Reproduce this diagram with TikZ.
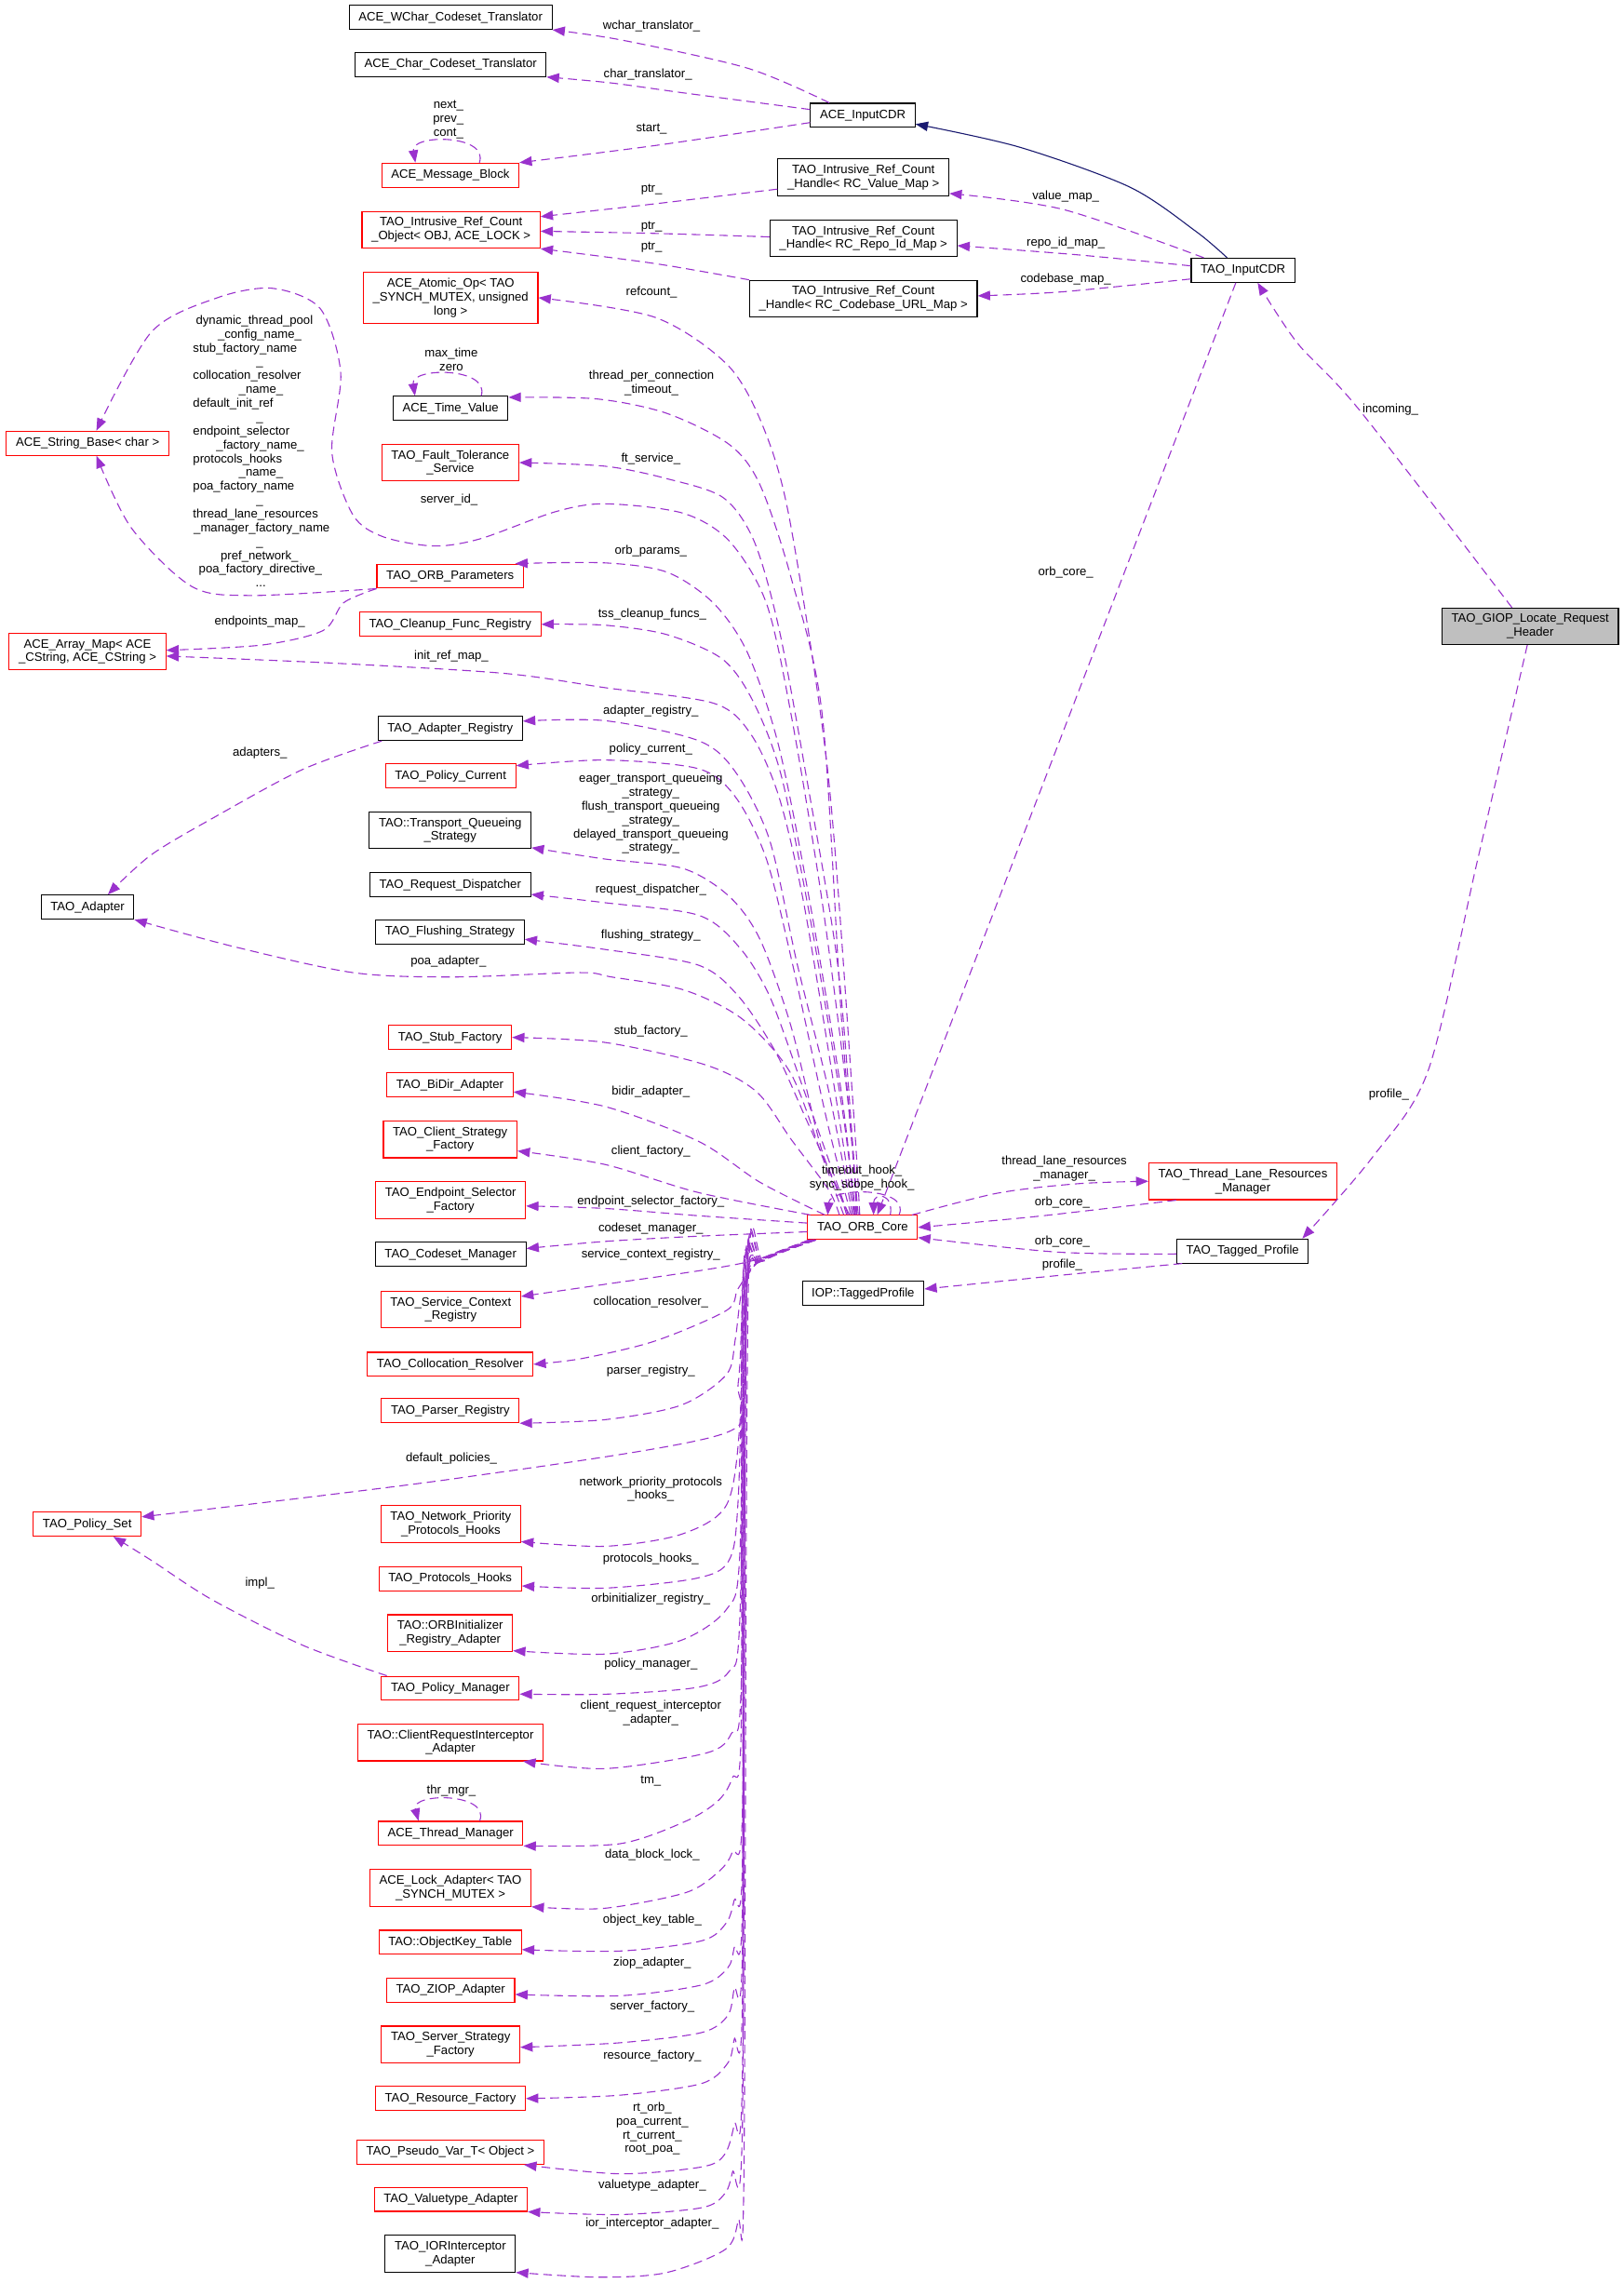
\documentclass[tikz,border=0pt]{standalone}
\usepackage{fontspec}
\setmainfont{Liberation Sans}
\usetikzlibrary{arrows.meta}

\definecolor{purpura}{HTML}{9A32CD}
\definecolor{azulher}{HTML}{191970}
\definecolor{rojo}{HTML}{FF0000}
\definecolor{gris}{HTML}{BFBFBF}

\tikzset{
  clase/.style={draw=black, line width=0.7pt, align=center, inner xsep=6.5pt, inner ysep=4pt,
    minimum height=16.5pt, font=\fontsize{8.4}{9.5}\selectfont},
  clasered/.style={clase, draw=rojo},
  principal/.style={clase, fill=gris},
  etiq/.style={inner sep=0pt, align=center, font=\fontsize{8.4}{9.5}\selectfont},
  miembro/.style={draw=purpura, line width=0.7pt, dash pattern=on 6pt off 3.5pt,
    -{Triangle[length=8.5pt,width=6.5pt]}},
  hereda/.style={draw=azulher, line width=0.7pt, -{Triangle[length=8.5pt,width=6.5pt]}}
}

\begin{document}
\begin{tikzpicture}[x=1pt, y=-1pt]
        \path[use as bounding box, fill=white] (0,0) rectangle (1115,1568);

        % --- CLASES: PARTE SUPERIOR ---
        \node[clase] (wchar) at (309.5,11.9) {ACE\_WChar\_Codeset\_Translator};
        \node[clase] (chartr) at (309.5,44.3) {ACE\_Char\_Codeset\_Translator};
        \node[clasered] (msgblock) at (309.3,120.3) {ACE\_Message\_Block};
        \node[clase] (aceinputcdr) at (592.6,79.2) {ACE\_InputCDR};
        \node[clasered] (ircobj) at (309.8,157.8) {TAO\_Intrusive\_Ref\_Count\\\_Object< OBJ, ACE\_LOCK >};
        \node[clase] (handlevalue) at (593,121.9) {TAO\_Intrusive\_Ref\_Count\\\_Handle< RC\_Value\_Map >};
        \node[clase] (handlerepo) at (593,163.7) {TAO\_Intrusive\_Ref\_Count\\\_Handle< RC\_Repo\_Id\_Map >};
        \node[clase] (handlecode) at (593,205.2) {TAO\_Intrusive\_Ref\_Count\\\_Handle< RC\_Codebase\_URL\_Map >};
        \node[clase] (taoinputcdr) at (853.8,185.6) {TAO\_InputCDR};
        \node[principal] (giop) at (1051,430.2) {TAO\_GIOP\_Locate\_Request\\\_Header};

        % --- CLASES: COLUMNA IZQUIERDA ---
        \node[clasered] (stringbase) at (60.2,304.4) {ACE\_String\_Base< char >};
        \node[clasered] (arraymap) at (60.1,447.6) {ACE\_Array\_Map< ACE\\\_CString, ACE\_CString >};
        \node[clase] (adapter) at (60.1,623) {TAO\_Adapter};
        \node[clasered] (policyset) at (59.9,1046.8) {TAO\_Policy\_Set};

        % --- CLASES: COLUMNA CENTRAL ---
        \node[clasered] (atomicop) at (309.5,204.5) {ACE\_Atomic\_Op< TAO\\\_SYNCH\_MUTEX, unsigned\\long >};
        \node[clase] (timevalue) at (309.5,280.5) {ACE\_Time\_Value};
        \node[clasered] (faulttol) at (309.3,317.7) {TAO\_Fault\_Tolerance\\\_Service};
        \node[clasered] (orbparams) at (309.2,395.7) {TAO\_ORB\_Parameters};
        \node[clasered] (cleanup) at (309.2,428.8) {TAO\_Cleanup\_Func\_Registry};
        \node[clase] (adapterreg) at (309.2,500.3) {TAO\_Adapter\_Registry};
        \node[clasered] (policycur) at (309.5,532.9) {TAO\_Policy\_Current};
        \node[clase] (transport) at (309.2,570.2) {TAO::Transport\_Queueing\\\_Strategy};
        \node[clase] (reqdisp) at (309.2,607.7) {TAO\_Request\_Dispatcher};
        \node[clase] (flushing) at (309,640.1) {TAO\_Flushing\_Strategy};
        \node[clasered] (stubfac) at (309.2,712.5) {TAO\_Stub\_Factory};
        \node[clasered] (bidir) at (309,745.2) {TAO\_BiDir\_Adapter};
        \node[clasered] (clientfac) at (309.2,782.5) {TAO\_Client\_Strategy\\\_Factory};
        \node[clasered] (endpoint) at (309.5,824.3) {TAO\_Endpoint\_Selector\\\_Factory};
        \node[clase] (codeset) at (309.5,861.5) {TAO\_Codeset\_Manager};
        \node[clasered] (servctx) at (309.6,899.4) {TAO\_Service\_Context\\\_Registry};
        \node[clasered] (colloc) at (309.2,937) {TAO\_Collocation\_Resolver};
        \node[clasered] (parser) at (309.3,968.9) {TAO\_Parser\_Registry};
        \node[clasered] (netprio) at (309.6,1046.8) {TAO\_Network\_Priority\\\_Protocols\_Hooks};
        \node[clasered] (protohooks) at (309.2,1084.2) {TAO\_Protocols\_Hooks};
        \node[clasered] (orbinit) at (309.2,1121.7) {TAO::ORBInitializer\\\_Registry\_Adapter};
        \node[clasered] (policymgr) at (309.3,1159.5) {TAO\_Policy\_Manager};
        \node[clasered] (clientreq) at (309.4,1196.7) {TAO::ClientRequestInterceptor\\\_Adapter};
        \node[clasered] (threadmgr) at (309.5,1259.2) {ACE\_Thread\_Manager};
        \node[clasered] (lockadapter) at (309.4,1296.6) {ACE\_Lock\_Adapter< TAO\\\_SYNCH\_MUTEX >};
        \node[clasered] (objkey) at (309.2,1334) {TAO::ObjectKey\_Table};
        \node[clasered] (ziop) at (309.5,1366.8) {TAO\_ZIOP\_Adapter};
        \node[clasered] (serverfac) at (309.5,1404.1) {TAO\_Server\_Strategy\\\_Factory};
        \node[clasered] (resfac) at (309.4,1441.3) {TAO\_Resource\_Factory};
        \node[clasered] (pseudovar) at (309.4,1478.2) {TAO\_Pseudo\_Var\_T< Object >};
        \node[clasered] (valuetype) at (309.6,1510.5) {TAO\_Valuetype\_Adapter};
        \node[clase] (iorinterc) at (309.3,1547.8) {TAO\_IORInterceptor\\\_Adapter};

        % --- CLASES: NUCLEO ---
        \node[clasered] (orbcore) at (592.5,843) {TAO\_ORB\_Core};
        \node[clasered] (tlrm) at (853.7,811.3) {TAO\_Thread\_Lane\_Resources\\\_Manager};
        \node[clase] (taggedprof) at (853.5,859.2) {TAO\_Tagged\_Profile};
        \node[clase] (iop) at (592.8,888.3) {IOP::TaggedProfile};

        % --- RELACIONES DE ACE_InputCDR ---
        \draw[miembro] plot[smooth] coordinates {([xshift=-23pt]aceinputcdr.north) (514,47) (428,27.7) (wchar.south east)};
        \draw[miembro] plot[smooth] coordinates {([yshift=4pt]aceinputcdr.west) (471,64) (420,57) (chartr.south east)};
        \draw[miembro] plot[smooth] coordinates {([yshift=-5pt]aceinputcdr.west) (449.6,100) (msgblock.north east)};
        \draw[miembro] ([xshift=20pt]msgblock.north) .. controls (336,92) and (282,92) .. ([xshift=-24pt]msgblock.north);

        % Punteros de los handles
        \draw[miembro] plot[smooth] coordinates {([yshift=-8pt]handlevalue.west) (449.7,140) ([yshift=9pt]ircobj.east)};
        \draw[miembro] plot[smooth] coordinates {([yshift=1pt]handlerepo.west) (449.6,160.3) ([yshift=-1pt]ircobj.east)};
        \draw[miembro] plot[smooth] coordinates {(handlecode.north west) (449.7,181) (ircobj.south east)};

        % --- RELACIONES DE TAO_InputCDR ---
        \draw[miembro] plot[smooth] coordinates {([xshift=-27pt]taoinputcdr.north) (730,143.8) ([yshift=-11pt]handlevalue.east)};
        \draw[miembro] plot[smooth] coordinates {([yshift=3pt]taoinputcdr.west) (740,175) ([yshift=-5pt]handlerepo.east)};
        \draw[miembro] plot[smooth] coordinates {([yshift=-6pt]taoinputcdr.west) (730,200.4) ([yshift=2pt]handlecode.east)};
        \draw[hereda] plot[smooth] coordinates {([xshift=-11pt]taoinputcdr.north) (821.5,159) (776,128.5) (700,101) ([yshift=-6pt]aceinputcdr.east)};
        \draw[miembro] ([xshift=-5pt]taoinputcdr.south) -- ([xshift=10pt]orbcore.north);

        % --- RELACIONES DE LA CLASE PRINCIPAL ---
        \draw[miembro] plot[smooth] coordinates {([xshift=-12.5pt]giop.north) (933.6,281.5) (891,235.5) ([xshift=10pt]taoinputcdr.south)};
        \draw[miembro] plot[smooth] coordinates {([xshift=-2pt]giop.south) (1015,590) (981,735) (942.5,795) ([xshift=-4.5pt]taggedprof.north east)};

        % --- NUCLEO, LANES Y PERFILES ---
        \draw[miembro] plot[smooth] coordinates {([xshift=-4pt]orbcore.north east) (685,819.5) (740,813) (tlrm.west)};
        \draw[miembro] plot[smooth] coordinates {([xshift=19pt]tlrm.south west) (711.6,835.5) (orbcore.east)};
        \draw[miembro] plot[smooth] coordinates {([yshift=-2pt]taggedprof.west) (727,860) ([yshift=-7pt]orbcore.east)};
        \draw[miembro] plot[smooth] coordinates {([xshift=4pt]taggedprof.south west) (727,876) ([yshift=3pt]iop.east)};
        \draw[miembro] ([xshift=25pt]orbcore.north) .. controls (626,815) and (570,815) .. ([xshift=-24pt]orbcore.north);
        \draw[miembro] ([xshift=19pt]orbcore.north) .. controls (614,819) and (600,819) .. ([xshift=7.5pt]orbcore.north);

        % --- OTRAS RELACIONES DE LA IZQUIERDA ---
        \draw[miembro] plot[smooth] coordinates {(orbparams.south west) (173,409) (131.7,402.8) (90,362.3) ([xshift=6pt]stringbase.south)};
        \draw[miembro] plot[smooth] coordinates {(orbparams.south west) (236,414) (222,433) (180,443) ([yshift=1pt]arraymap.east)};
        \draw[miembro] plot[smooth] coordinates {([xshift=3pt]adapterreg.south west) (208,528.4) (149,560.3) (104,587) ([xshift=14pt]adapter.north)};
        \draw[miembro] plot[smooth] coordinates {([xshift=4pt]policymgr.north west) (208,1130) (145.5,1098.6) (104,1071.7) ([xshift=18pt]policyset.south)};
        \draw[miembro] ([xshift=21pt]timevalue.north) .. controls (337,252) and (282,252) .. ([xshift=-24.5pt]timevalue.north);
        \draw[miembro] ([xshift=20pt]threadmgr.north) .. controls (337,1231) and (282,1231) .. ([xshift=-22pt]threadmgr.north);

        % --- ABANICO SUPERIOR DEL NUCLEO ---
        \draw[miembro] plot[smooth] coordinates {([xshift=-2pt]orbcore.north) (586,760) (569,534) (543.5,363) (526.4,298.8) (500.8,251.8) (450,218) (atomicop.east)};
        \draw[miembro] plot[smooth] coordinates {([xshift=-3pt]orbcore.north) (578,700) (564.8,491.5) (543.5,397.3) (522,333) (500.9,305.3) (458,283.9) (410,274) ([yshift=-1pt]timevalue.north east)};
        \draw[miembro] plot[smooth] coordinates {([xshift=-4pt]orbcore.north) (586,791) (575.4,662.8) (554,534.3) (535,431.6) (517.9,371.6) (496.6,341.7) (458.2,328.8) (415.6,320.2) (faulttol.east)};
        \draw[miembro] plot[smooth] coordinates {([xshift=-4.5pt]orbcore.north) (584,770) (564.8,620) (543.5,491.5) (526.4,414.4) (500.9,371.6) (468.9,352.4) (415.6,346) (381,351.6) (330,370) (298,375) (263,368.6) (242.5,353.8) (228,311) (234,256) (220,212) (187,198) (149,204.6) (104,228) ([xshift=6pt]stringbase.north)};
        \draw[miembro] plot[smooth] coordinates {([xshift=-5pt]orbcore.north) (577.6,748.4) (556.3,620) (535,513) (513.6,448.7) (490.2,414.4) (458.2,393) (415.6,386.6) ([xshift=-6pt]orbparams.north east)};
        \draw[miembro] plot[smooth] coordinates {([xshift=-5.5pt]orbcore.north) (579.7,769.8) (558.4,641.4) (537,534.3) (517.9,483) (496.6,453) (458.2,435.9) (415.6,429.4) (cleanup.east)};
        \draw[miembro] plot[smooth] coordinates {([xshift=-6pt]orbcore.north) (573.3,748.4) (552,620) (535,547.2) (515.8,504.4) (490.2,483) (415.6,472.3) (346.5,462.5) (230,455.5) ([yshift=-3pt]arraymap.east)};
        \draw[miembro] plot[smooth] coordinates {([xshift=-7pt]orbcore.north) (569,748.4) (547.7,662.8) (528.6,577) (505,530) (479.5,508.6) (415.8,495) ([yshift=5pt]adapterreg.east)};
        \draw[miembro] plot[smooth] coordinates {([xshift=-8pt]orbcore.north) (568,769.8) (545,665) (526.4,590) (505,547.2) (479.5,527.9) (415.6,522) ([yshift=7pt]policycur.east)};
        \draw[miembro] plot[smooth] coordinates {([xshift=-9pt]orbcore.north) (564.8,791.2) (543.5,705.6) (522.2,645.6) (500.9,615.7) (468.9,596.4) (415.6,590) ([yshift=1pt]transport.south east)};
        \draw[miembro] plot[smooth] coordinates {([xshift=-10pt]orbcore.north) (573.3,808.3) (552,748.4) (528.6,684.2) (507.2,649.9) (479.5,628.5) (415.6,620) ([yshift=2pt]reqdisp.south east)};
        \draw[miembro] plot[smooth] coordinates {([xshift=-11pt]orbcore.north) (575.4,816.9) (554.2,769.8) (532.8,722.7) (507.2,684.2) (479.5,662.8) (415.6,652.1) ([yshift=-5pt]flushing.east)};
        \draw[miembro] plot[smooth] coordinates {([xshift=-13pt]orbcore.north) (565,795) (543,737) (510,700) (470,680) (420,671) (398,668) (312,671) (242.5,668) (160,650) (adapter.south east)};
        \draw[miembro] plot[smooth] coordinates {([xshift=-16pt]orbcore.north) (569,817) (543.5,782.7) (519.8,750) (485,731.5) (415.8,716) (stubfac.east)};
        \draw[miembro] plot[smooth] coordinates {([xshift=-26pt]orbcore.north) (522,812) (480,784) (415.6,760) ([yshift=-4.7pt]bidir.east)};
        \draw[miembro] plot[smooth] coordinates {([xshift=2pt]orbcore.north west) (479.5,819) (415.6,799.8) ([yshift=-8pt]clientfac.east)};
        \draw[miembro] plot[smooth] coordinates {([yshift=3pt]orbcore.west) (480,835) (415.8,830) ([yshift=-4pt]endpoint.east)};
        \draw[miembro] plot[smooth] coordinates {([yshift=-3pt]orbcore.west) (480,849) (415.8,852.6) ([yshift=4pt]codeset.east)};

        % --- HAZ INFERIOR DEL NUCLEO ---
        \draw[miembro] plot[smooth] coordinates {([xshift=1pt]orbcore.south west) (520,865) (485,872) (416,882) ([yshift=9pt]servctx.east)};
        \draw[miembro] plot[smooth] coordinates {([xshift=3pt]orbcore.south west) (522,866) (507,885) (499,900) (450,921) (400,933) (colloc.east)};
        \draw[miembro] plot[smooth] coordinates {([xshift=3pt]orbcore.south west) (522,866) (510,885) (505,920) (499,944) (468,965) (416,975) (parser.south east)};
        \draw[miembro] plot[smooth] coordinates {([xshift=4pt]orbcore.south west) (522,866) (511,885) (507,950) (496,985) (311.8,1015.6) ([yshift=5pt]policyset.east)};
        \draw[miembro] plot[smooth] coordinates {([xshift=4pt]orbcore.south west) (522,866) (511,885) (508,980) (499,1033.6) (467.8,1053.8) (415.8,1062) ([yshift=1pt]netprio.south east)};
        \draw[miembro] plot[smooth] coordinates {([xshift=5pt]orbcore.south west) (523,866) (512,885) (507,1030) (500.7,1071.7) (478.2,1084) (415.8,1090.7) ([yshift=-5pt]protohooks.east)};
        \draw[miembro] plot[smooth] coordinates {([xshift=5pt]orbcore.south west) (523,866) (512,885) (508,1070) (499,1105.3) (467.8,1126.6) (415.8,1136) ([yshift=1pt]orbinit.south east)};
        \draw[miembro] plot[smooth] coordinates {([xshift=6pt]orbcore.south west) (524,866) (513,885) (508,1115) (500.7,1148) (478.2,1159) (415.8,1163.6) ([yshift=-4pt]policymgr.east)};
        \draw[miembro] plot[smooth] coordinates {([xshift=6pt]orbcore.south west) (524,866) (513,885) (509,1160) (502.4,1190.5) (485,1204) (415.8,1214.7) ([xshift=-14pt]clientreq.south east)};
        \draw[miembro] plot[smooth] coordinates {([xshift=2pt]orbcore.south west) (521,866) (510,885) (509,1190) (503,1221) (493,1237) (470.6,1251) (425.7,1266.3) (threadmgr.south east)};
        \draw[miembro] plot[smooth] coordinates {([xshift=2pt]orbcore.south west) (521,866) (510,885) (510,1240) (503,1272) (493,1286) (470.6,1300) (414.5,1310.7) (lockadapter.south east)};
        \draw[miembro] plot[smooth] coordinates {([xshift=3pt]orbcore.south west) (522,866) (511,885) (510,1275) (504.3,1305) (498.6,1321) (481.8,1333) (425.7,1340) ([yshift=-5pt]objkey.east)};
        \draw[miembro] plot[smooth] coordinates {([xshift=3pt]orbcore.south west) (522,866) (511,885) (510,1305) (504.3,1337.5) (499.8,1351.6) (481.8,1363.3) (425.7,1370.7) ([yshift=-3pt]ziop.east)};
        \draw[miembro] plot[smooth] coordinates {([xshift=4pt]orbcore.south west) (523,866) (512,885) (510,1335) (504.3,1365.6) (499.8,1384.3) (481.8,1396) (425.7,1403) ([yshift=-2pt]serverfac.east)};
        \draw[miembro] plot[smooth] coordinates {([xshift=4pt]orbcore.south west) (523,866) (512,885) (510,1370) (504.3,1400.6) (499.8,1417) (481.8,1431) (425.7,1439) (resfac.east)};
        \draw[miembro] plot[smooth] coordinates {([xshift=5pt]orbcore.south west) (524,866) (513,885) (510,1420) (504.3,1459) (497.5,1480) (481.8,1488.3) (425.7,1493) ([xshift=-14pt]pseudovar.south east)};
        \draw[miembro] plot[smooth] coordinates {([xshift=5pt]orbcore.south west) (524,866) (513,885) (510,1455) (503.1,1491.8) (497.5,1507) (481.8,1516.3) (425.7,1521) (valuetype.south east)};
        \draw[miembro] plot[smooth] coordinates {([xshift=6pt]orbcore.south west) (525,866) (514,885) (511,1490) (507,1525) (498,1545) (457,1561) (411,1564) (iorinterc.south east)};

        % --- ETIQUETAS ---
        \node[etiq] (l-wchar) at (447.5,18) {wchar\_translator\_};
        \node[etiq] (l-char) at (445,51) {char\_translator\_};
        \node[etiq] (l-start) at (447.5,88.4) {start\_};
        \node[etiq] (l-next) at (308,82) {next\_\\prev\_\\cont\_};
        \node[etiq] (l-ptr1) at (447.5,130) {ptr\_};
        \node[etiq] (l-ptr2) at (447.5,155.6) {ptr\_};
        \node[etiq] (l-ptr3) at (447.5,170) {ptr\_};
        \node[etiq] (l-valuemap) at (732,135) {value\_map\_};
        \node[etiq] (l-repomap) at (732,166.7) {repo\_id\_map\_};
        \node[etiq] (l-codemap) at (732,192) {codebase\_map\_};
        \node[etiq] (l-orbcore1) at (732,393) {orb\_core\_};
        \node[etiq] (l-incoming) at (955,281.5) {incoming\_};
        \node[etiq] (l-profile1) at (954,752) {profile\_};
        \node[etiq] (l-refcount) at (447.5,201) {refcount\_};
        \node[etiq] (l-maxtime) at (310,247) {max\_time\\zero};
        \node[etiq] (l-tpc) at (447.5,262.8) {thread\_per\_connection\\\_timeout\_};
        \node[etiq] (l-ft) at (447,315) {ft\_service\_};
        \node[etiq] (l-serverid) at (308.4,343) {server\_id\_};
        \node[etiq, align=left, anchor=west] (l-strings) at (132.4,309.9) {\hspace*{2pt}dynamic\_thread\_pool\\
          \hspace*{17pt}\_config\_name\_\\stub\_factory\_name\\\hspace*{43.5pt}\_\\collocation\_resolver\\
          \hspace*{31.5pt}\_name\_\\default\_init\_ref\\\hspace*{43.5pt}\_\\endpoint\_selector\\
          \hspace*{16pt}\_factory\_name\_\\protocols\_hooks\\\hspace*{31.5pt}\_name\_\\poa\_factory\_name\\
          \hspace*{43.5pt}\_\\thread\_lane\_resources\\\hspace*{0.5pt}\_manager\_factory\_name\\
          \hspace*{43.5pt}\_\\\hspace*{19pt}pref\_network\_\\\hspace*{4pt}poa\_factory\_directive\_\\
          \hspace*{43pt}...};
        \node[etiq] (l-orbparams) at (447,378.7) {orb\_params\_};
        \node[etiq] (l-endpointsmap) at (178.4,427.3) {endpoints\_map\_};
        \node[etiq] (l-tss) at (448,422.2) {tss\_cleanup\_funcs\_};
        \node[etiq] (l-initref) at (310,450.8) {init\_ref\_map\_};
        \node[etiq] (l-adapterreg) at (447,488.5) {adapter\_registry\_};
        \node[etiq] (l-adapters) at (178.5,517) {adapters\_};
        \node[etiq] (l-policycur) at (447,514.5) {policy\_current\_};
        \node[etiq] (l-transport) at (447,558.9) {eager\_transport\_queueing\\\_strategy\_\\flush\_transport\_queueing\\
          \_strategy\_\\delayed\_transport\_queueing\\\_strategy\_};
        \node[etiq] (l-reqdisp) at (447,611) {request\_dispatcher\_};
        \node[etiq] (l-flushing) at (447,642.5) {flushing\_strategy\_};
        \node[etiq] (l-poa) at (308,660.6) {poa\_adapter\_};
        \node[etiq] (l-stub) at (447,708.3) {stub\_factory\_};
        \node[etiq] (l-bidir) at (447,749.9) {bidir\_adapter\_};
        \node[etiq] (l-client) at (447,790.7) {client\_factory\_};
        \node[etiq] (l-tlrm) at (731,802.7) {thread\_lane\_resources\\\_manager\_};
        \node[etiq] (l-endpoint) at (447,825.2) {endpoint\_selector\_factory\_};
        \node[etiq] (l-orbcore2) at (729.6,826) {orb\_core\_};
        \node[etiq] (l-hooks) at (592,809) {timeout\_hook\_\\sync\_scope\_hook\_};
        \node[etiq] (l-codeset) at (447,844.1) {codeset\_manager\_};
        \node[etiq] (l-orbcore3) at (729.6,853) {orb\_core\_};
        \node[etiq] (l-servctx) at (447,862) {service\_context\_registry\_};
        \node[etiq] (l-profile2) at (729.6,869) {profile\_};
        \node[etiq] (l-colloc) at (447,894) {collocation\_resolver\_};
        \node[etiq] (l-parser) at (447,941.6) {parser\_registry\_};
        \node[etiq] (l-defpol) at (310,1001.7) {default\_policies\_};
        \node[etiq] (l-netprio) at (447,1022.8) {network\_priority\_protocols\\\_hooks\_};
        \node[etiq] (l-protohooks) at (447,1070.7) {protocols\_hooks\_};
        \node[etiq] (l-impl) at (178.5,1087.4) {impl\_};
        \node[etiq] (l-orbinit) at (447,1098.5) {orbinitializer\_registry\_};
        \node[etiq] (l-policymgr) at (447,1142.9) {policy\_manager\_};
        \node[etiq] (l-clientreq) at (447,1176.6) {client\_request\_interceptor\\\_adapter\_};
        \node[etiq] (l-tm) at (447,1223) {tm\_};
        \node[etiq] (l-thrmgr) at (310,1230) {thr\_mgr\_};
        \node[etiq] (l-lock) at (448,1274) {data\_block\_lock\_};
        \node[etiq] (l-objkey) at (448,1318.8) {object\_key\_table\_};
        \node[etiq] (l-ziop) at (448,1348) {ziop\_adapter\_};
        \node[etiq] (l-serverfac) at (448,1378.4) {server\_factory\_};
        \node[etiq] (l-resfac) at (448,1412.3) {resource\_factory\_};
        \node[etiq] (l-pseudo) at (448,1462) {rt\_orb\_\\poa\_current\_\\rt\_current\_\\root\_poa\_};
        \node[etiq] (l-valuetype) at (448,1501) {valuetype\_adapter\_};
        \node[etiq] (l-ior) at (448,1527.3) {ior\_interceptor\_adapter\_};
\end{tikzpicture}
\end{document}
